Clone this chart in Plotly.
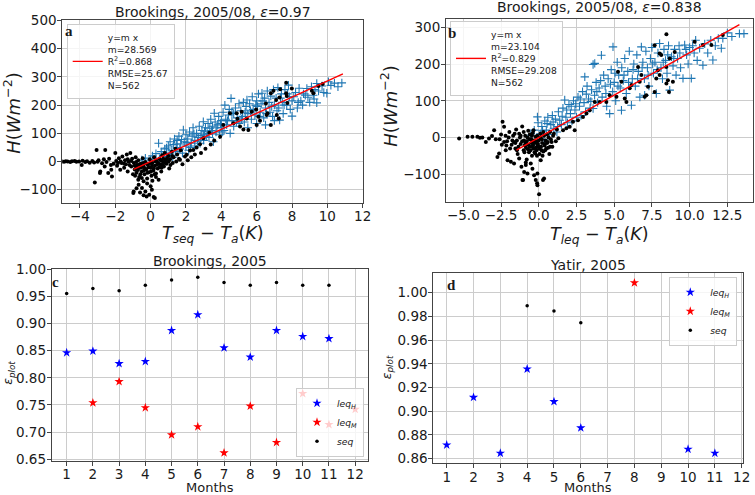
import plotly.graph_objects as go

W, H = 755, 495

# ---------------- Panel a data (Brookings 2005/08, seq) ----------------
a_slope, a_r2, a_rmse, a_n = 28.569, 0.868, 25.67, 562
a_fit_x = [-0.97, 10.88]
a_blue = [(-0.5,6),(-0.3,12),(0.0,5),(0.1,20),(0.3,28),(0.45,65),(0.5,10),(0.6,35),(0.7,18),(0.8,45),(0.9,25),
 (1.0,55),(1.05,30),(1.1,70),(1.2,40),(1.25,15),(1.3,60),(1.35,80),(1.4,35),(1.5,50),(1.5,75),
 (1.6,90),(1.65,45),(1.7,62),(1.8,30),(1.85,112),(1.9,70),(2.0,55),(2.0,95),
 (2.1,80),(2.15,40),(2.2,105),(2.3,65),(2.35,90),(2.4,120),(2.5,75),(2.5,55),
 (2.6,100),(2.7,85),(2.75,125),(2.8,65),(2.9,110),(3.0,95),(2.98,141),(3.0,75),
 (3.1,120),(3.2,100),(3.25,135),(3.3,85),(3.4,150),(3.45,110),(3.5,125),(3.55,70),
 (3.6,171),(3.65,140),(3.7,105),(3.8,130),(3.85,160),(3.9,95),(4.0,145),(4.0,120),
 (4.1,175),(4.15,110),(4.2,200),(4.25,150),(4.3,130),(4.4,165),(4.45,185),(4.5,100),
 (4.55,224),(4.6,145),(4.7,170),(4.7,125),(4.8,190),(4.9,155),(5.0,205),(5.0,135),
 (5.1,180),(5.2,160),(5.25,210),(5.3,140),(5.4,195),(5.45,218),(5.5,170),(5.5,120),
 (5.6,205),(5.7,150),(5.75,230),(5.8,185),(5.9,165),(6.0,215),(6.0,135),(6.05,195),
 (6.1,240),(6.2,175),(6.25,205),(6.3,242),(6.4,155),(6.45,225),(6.5,190),(6.5,130),
 (6.6,250),(6.7,210),(6.75,175),(6.8,232),(6.9,160),(6.95,255),(7.0,200),(7.0,145),
 (7.1,225),(7.2,262),(7.25,190),(7.3,147),(7.4,240),(7.45,210),(7.5,170),
 (7.6,255),(7.7,200),(7.8,271),(7.85,230),(7.9,185),(8.0,161),(8.0,215),
 (8.2,245),(8.3,190),(8.4,260),(8.5,215),(8.6,200),(8.65,240),(8.84,259),(8.9,228),(9.0,210),
 (9.1,265),(9.2,235),(9.3,255),(9.4,277),(9.4,208),(9.5,250),(9.7,268),(9.8,245),(9.97,242),
 (10.06,283),(10.2,270),(10.4,278),(10.6,265),(10.82,279),
 (0.9,48),(1.15,22),(1.45,62),(1.75,78),(2.05,68),(2.25,50),(2.45,98),(2.65,72),(2.85,92),(3.05,108),
 (3.15,88),(3.35,118),(3.5,98),(3.75,120),(3.95,135),(4.05,105),(4.35,145),(4.6,175),(4.85,140),
 (5.15,150),(5.35,175),(5.65,180),(5.95,200),(6.15,160),(6.35,215),(6.55,170),(6.85,195),(7.15,180),
 (7.35,225),(7.55,200),(7.75,240),(8.1,230),(8.35,210),(8.75,235),(9.25,222)]
a_black = [(-5.0,0),(-4.9,-1),(-4.8,1),(-4.7,0),(-4.55,-2),(-4.45,1),(-4.3,2),(-4.2,-1),(-4.05,0),(-3.9,-12),(-3.85,3),
 (-3.7,-2),(-3.6,1),(-3.45,-4),(-3.3,2),(-3.2,-3),(-3.16,-74),(-3.06,41),(-3.0,-1),(-2.95,5),(-2.87,-41),(-2.85,-35),
 (-2.75,-6),(-2.65,8),(-2.57,41),(-2.5,-2),(-2.4,-41),(-2.35,10),(-2.23,-29),(-2.19,-53),(-2.1,-8),(-2.0,30),(-1.95,2),
 (-1.9,-15),(-1.8,12),(-1.72,-29),(-1.65,-5),(-1.6,18),(-1.5,-22),(-1.45,5),(-1.4,-10),(-1.35,25),(-1.3,-35),(-1.25,0),
 (-1.15,30),(-1.1,-18),(-1.05,10),(-1.0,-45),(-0.98,-112),(-0.96,-106),(-0.95,-5),(-0.9,-28),(-0.85,15),(-0.8,-40),
 (-0.75,-12),(-0.7,5),(-0.68,-82),(-0.65,-55),(-0.6,-110),(-0.6,-22),(-0.55,-8),(-0.5,-35),(-0.49,-94),(-0.45,12),
 (-0.4,-70),(-0.4,-18),(-0.35,-45),(-0.3,-106),(-0.3,-2),(-0.25,-28),(-0.23,-124),(-0.2,-60),(-0.15,-12),(-0.1,-38),
 (-0.08,-118),(-0.05,8),(0.0,-22),(0.05,-50),(0.07,-100),(0.1,-5),(0.15,-32),(0.17,-126),(0.2,15),(0.24,-129),(0.25,-15),
 (0.3,-42),(0.35,2),(0.4,-25),(0.45,-65),(0.5,10),(0.55,-10),(0.6,-35),(0.65,22),(0.7,-2),(0.75,-18),(0.8,30),(0.85,5),
 (0.9,-8),(1.0,20),(1.05,-25),(1.1,8),(1.2,35),(1.25,-5),(1.3,15),(1.4,45),(1.45,0),(1.5,25),(1.6,10),(1.66,6),(1.7,40),
 (1.8,-10),(1.94,18),(2.04,24),(2.1,5),(2.23,39),(2.3,15),(2.41,41),(2.5,25),(2.6,50),(2.79,61),(2.85,30),(2.98,83),
 (3.1,45),(3.32,102),(3.4,60),(3.6,75),(3.93,88),(4.11,130),(4.49,171),(4.68,136),(4.87,171),(4.91,152),(5.06,124),
 (5.15,177),(5.25,114),(5.44,153),(5.53,112),(5.72,177),(5.97,185),(6.0,130),(6.1,159),(6.19,145),(6.52,206),(6.57,165),
 (6.61,171),(6.8,242),(6.8,130),(6.95,251),(7.1,218),(7.14,165),(7.25,153),(7.29,227),(7.33,256),(7.67,279),(7.67,242),
 (7.7,232),(7.74,208),(7.99,259),(9.12,251),(9.21,242),(9.5,268),(9.74,275),
 (-0.9,-15),(-0.82,-2),(-0.72,-30),(-0.62,-10),(-0.52,-20),(-0.42,-5),(-0.32,-25),(-0.22,-8),(-0.12,-20),(-0.02,-5),
 (0.08,-15),(0.18,-25),(0.28,0),(0.38,-10),(0.48,-20),(0.58,5),(0.68,-12),(-0.88,-50),(-0.78,-20),(-0.58,-45),(-0.38,-32),
 (-0.18,-40),(0.02,-35),(0.22,-45),(0.42,-5),(0.62,-22),(0.72,10),(0.82,-5),(0.92,12),(1.02,0),(1.12,-12),(1.22,20),
 (-1.2,-12),(-1.1,2),(-1.3,8),(-1.5,-8),(-1.7,0),(-1.85,-5),(-2.25,-12),(-2.6,-18),(-0.7,-65),(-0.5,-58),(-0.2,-78),
 (0.1,-68),(0.3,-55),(-0.8,-95),(0.0,-88),(-0.4,-120)]

# ---------------- Panel b data (Brookings 2005/08, leq) ----------------
b_slope, b_r2, b_rmse, b_n = 23.104, 0.829, 29.208, 562
b_fit_x = [-1.48, 13.3]
b_blue = [(-0.53,6),(-0.3,20),(-0.09,56),(-0.05,40),(0.1,10),(0.2,30),(0.35,-5),(0.4,45),(0.5,20),(0.6,55),(0.7,8),
 (0.8,35),(0.9,60),(1.0,25),(1.1,50),(1.2,15),(1.3,70),(1.39,47),(1.5,35),(1.6,80),(1.72,102),(1.8,55),(1.9,40),(2.0,90),
 (2.1,65),(2.2,45),(2.3,100),(2.4,75),(2.5,55),(2.6,110),(2.7,85),(2.8,60),(2.9,125),(3.0,95),(3.05,165),(3.1,70),
 (3.2,140),(3.3,105),(3.4,80),(3.5,130),(3.6,199),(3.6,79),(3.7,115),(3.71,202),(3.8,150),(3.9,95),(4.0,135),(4.15,224),
 (4.2,110),(4.3,170),(4.4,140),(4.5,85),(4.6,160),(4.7,65),(4.8,185),(4.9,125),(4.92,247),(5.0,150),(5.1,100),(5.2,205),
 (5.3,170),(5.4,135),(5.48,74),(5.5,190),(5.6,155),(5.7,215),(5.8,120),(5.9,180),(6.0,235),(6.14,88),(6.2,160),(6.3,200),
 (6.4,140),(6.5,225),(6.6,180),(6.7,110),(6.8,247),(6.9,205),(7.0,160),(7.02,115),(7.1,235),(7.2,190),(7.3,140),(7.4,215),
 (7.5,245),(7.6,175),(7.7,205),(7.79,120),(7.9,230),(8.01,256),(8.1,190),(8.2,160),(8.3,240),(8.4,210),(8.5,175),
 (8.6,250),(8.68,129),(8.8,220),(8.9,195),(9.0,240),(9.1,170),(9.2,215),(9.3,250),(9.4,190),(9.56,161),(9.67,252),
 (9.8,225),(9.9,200),(10.0,245),(10.11,161),(10.3,230),(10.4,265),(10.5,210),(10.66,243),(10.88,197),(11.0,255),
 (11.2,230),(11.4,265),(11.54,211),(11.7,250),(11.9,270),(12.1,243),(12.2,270),(12.5,285),(12.8,275),(13.3,283),(13.6,283),
 (0.25,18),(0.55,38),(0.95,42),(1.25,30),(1.55,58),(1.85,75),(2.15,85),(2.45,92),(2.75,105),(3.15,118),(3.45,98),
 (3.85,125),(4.1,155),(4.45,120),(4.75,145),(5.05,175),(5.25,140),(5.65,170),(5.95,150),(6.25,185),(6.55,160),(6.85,190),
 (7.25,170),(7.55,200),(7.85,185),(8.25,205),(8.55,225),(8.95,215),(9.35,230),(9.75,240),(10.2,250)]
b_black = [(-5.28,-3),(-4.72,2),(-4.4,2),(-4.07,2),(-3.9,-1),(-3.74,0),(-3.51,-12),(-3.3,-3),(-3.1,4),(-2.96,20),(-2.85,-5),
 (-2.74,-53),(-2.63,-44),(-2.5,8),(-2.4,43),(-2.3,29),(-2.19,-35),(-2.1,-10),(-2.07,-62),(-1.95,15),(-1.85,-66),(-1.8,-20),
 (-1.7,5),(-1.64,-71),(-1.55,-30),(-1.5,22),(-1.45,-8),(-1.4,-45),(-1.3,-57),(-1.3,10),(-1.2,-18),(-1.15,-80),(-1.1,30),
 (-1.08,-116),(-1.04,-116),(-1.0,-35),(-0.97,-94),(-0.93,-21),(-0.9,5),(-0.86,-75),(-0.86,-68),(-0.8,-60),(-0.8,-10),
 (-0.75,-98),(-0.7,18),(-0.65,-40),(-0.6,-25),(-0.53,-71),(-0.5,-5),(-0.45,-50),(-0.42,-85),(-0.4,12),(-0.35,-30),
 (-0.31,-103),(-0.3,-15),(-0.24,-44),(-0.2,-116),(-0.2,2),(-0.15,-35),(-0.11,-125),(-0.1,-20),(-0.09,-130),(-0.09,-98),
 (0.0,-8),(0.02,-155),(0.05,-45),(0.1,10),(0.13,-62),(0.15,-25),(0.2,-5),(0.28,-116),(0.3,-38),(0.35,-112),(0.35,5),
 (0.4,-18),(0.5,-30),(0.55,8),(0.6,-12),(0.7,-45),(0.75,15),(0.8,-5),(0.9,-25),(1.0,10),(1.13,-10),(1.2,22),(1.3,-2),
 (1.61,20),(1.83,25),(2.05,29),(2.27,43),(2.38,20),(2.6,47),(2.93,56),(3.16,65),(3.38,74),(3.71,97),(4.04,97),(4.48,97),
 (4.7,115),(5.15,111),(5.25,179),(5.48,152),(5.7,106),(5.81,97),(6.03,134),(6.14,143),(6.58,192),(6.69,152),(6.8,170),
 (7.02,111),(7.13,115),(7.24,138),(7.68,251),(7.68,124),(7.79,161),(7.9,183),(8.01,229),(8.01,170),(8.12,225),(8.46,281),
 (8.46,192),(8.46,147),(8.56,156),(8.63,124),(8.68,215),(8.89,152),(9.01,233),(10.33,261),(10.88,252),(11.44,252),(12.2,279),
 (-2.6,-5),(-2.3,-12),(-2.0,0),(-1.75,-8),(-1.6,10),(-1.35,-25),(-1.25,0),(-1.1,-10),(-0.95,-40),(-0.85,-28),(-0.75,0),
 (-0.7,-20),(-0.55,-35),(-0.5,-15),(-0.45,5),(-0.38,-22),(-0.28,-40),(-0.25,-8),(-0.18,-28),(-0.12,-50),(-0.05,-18),
 (0.05,-30),(0.12,0),(0.22,-15),(0.25,-50),(0.42,-35),(0.45,-8),(0.62,-28),(0.65,0),(0.85,-12),(0.95,5),(-1.9,-30),
 (-2.2,5),(-1.45,-35),(-0.6,8),(0.3,15),(-0.35,20),(-1.0,15),
 (-2.45,-20),(-2.15,-22),(-1.65,-12),(-1.2,5),(-0.98,-8),(-0.88,-15),(-0.72,-32),(-0.62,-5),(-0.42,-25),(-0.32,-8),
 (-0.15,-12),(0.0,-25),(0.18,-35),(0.38,-22),(0.55,-15),(0.75,-25),(-1.55,-15),(-0.1,5)]

# ---------------- Panel c data (Brookings 2005) ----------------
c_leqH_m = [1,2,3,4,5,6,7,8,9,10,11]
c_leqH = [0.846,0.849,0.826,0.830,0.887,0.916,0.855,0.838,0.887,0.876,0.872]
c_leqM_m = [2,3,4,5,6,7,8,9,10,11,12]
c_leqM = [0.754,0.793,0.745,0.695,0.710,0.662,0.748,0.681,0.771,0.714,0.742]
c_seq_m = [1,2,3,4,5,6,7,8,9,10,11]
c_seq = [0.955,0.964,0.960,0.970,0.980,0.985,0.975,0.970,0.975,0.970,0.970]

# ---------------- Panel d data (Yatir 2005) ----------------
d_leqH_m = [1,2,3,4,5,6,10,11]
d_leqH = [0.8715,0.9117,0.8645,0.9356,0.9081,0.8859,0.8679,0.8645]
d_leqM_m = [8]
d_leqM = [1.0084]
d_seq_m = [4,5,6]
d_seq = [0.989,0.9845,0.9747]

months = list(range(1, 13))

BLUE_PLUS = "#1f77b4"
FONT = "DejaVu Sans"
TXT = "#1a1a1a"

def px(x): return x / W
def py(y): return 1 - y / H

fig = go.Figure()

def fit_name(s, r2, rmse, n):
    return f"y=m x<br>m={s}<br>R<sup>2</sup>={r2}<br>RMSE={rmse}<br>N={n}"

# panel a
fig.add_trace(go.Scatter(x=[p[0] for p in a_blue], y=[p[1] for p in a_blue], mode="markers",
    marker=dict(symbol="cross-thin", size=6, line=dict(color=BLUE_PLUS, width=1.1)),
    showlegend=False, xaxis="x", yaxis="y"))
fig.add_trace(go.Scatter(x=[p[0] for p in a_black], y=[p[1] for p in a_black], mode="markers",
    marker=dict(symbol="circle", size=4, color="black"), showlegend=False, xaxis="x", yaxis="y"))
fig.add_trace(go.Scatter(x=a_fit_x, y=[a_slope * v for v in a_fit_x], mode="lines",
    line=dict(color="red", width=1.4), name=fit_name(a_slope, a_r2, a_rmse, a_n),
    xaxis="x", yaxis="y", legend="legend"))

# panel b
fig.add_trace(go.Scatter(x=[p[0] for p in b_blue], y=[p[1] for p in b_blue], mode="markers",
    marker=dict(symbol="cross-thin", size=6, line=dict(color=BLUE_PLUS, width=1.1)),
    showlegend=False, xaxis="x2", yaxis="y2"))
fig.add_trace(go.Scatter(x=[p[0] for p in b_black], y=[p[1] for p in b_black], mode="markers",
    marker=dict(symbol="circle", size=4, color="black"), showlegend=False, xaxis="x2", yaxis="y2"))
fig.add_trace(go.Scatter(x=b_fit_x, y=[b_slope * v for v in b_fit_x], mode="lines",
    line=dict(color="red", width=1.4), name=fit_name(b_slope, b_r2, b_rmse, b_n),
    xaxis="x2", yaxis="y2", legend="legend2"))

leqH_name = "<i>leq</i><sub><i>H</i></sub>"
leqM_name = "<i>leq</i><sub><i>M</i></sub>"
seq_name = "<i>seq</i>"

for (xa, ya, lg, hm, hv, mm, mv, sm, sv) in [
        ("x3", "y3", "legend3", c_leqH_m, c_leqH, c_leqM_m, c_leqM, c_seq_m, c_seq),
        ("x4", "y4", "legend4", d_leqH_m, d_leqH, d_leqM_m, d_leqM, d_seq_m, d_seq)]:
    fig.add_trace(go.Scatter(x=hm, y=hv, mode="markers", name=leqH_name,
        marker=dict(symbol="star", size=7, color="blue"), xaxis=xa, yaxis=ya, legend=lg))
    fig.add_trace(go.Scatter(x=mm, y=mv, mode="markers", name=leqM_name,
        marker=dict(symbol="star", size=7, color="red"), xaxis=xa, yaxis=ya, legend=lg))
    fig.add_trace(go.Scatter(x=sm, y=sv, mode="markers", name=seq_name,
        marker=dict(symbol="circle", size=3.5, color="black"), xaxis=xa, yaxis=ya, legend=lg))

axis_common = dict(showline=True, mirror=True, linecolor="#444", linewidth=1,
                   ticks="outside", ticklen=4, tickcolor="#444", tickwidth=1,
                   showgrid=True, gridcolor="#cccccc", gridwidth=1, zeroline=False,
                   automargin=False,
                   tickfont=dict(family=FONT, size=13.5, color=TXT))
xstand = dict(ticklabelstandoff=-3)
ystand = dict(ticklabelstandoff=-2)

legend_common = dict(bgcolor="rgba(255,255,255,0.8)", bordercolor="#cccccc", borderwidth=1,
                     font=dict(family=FONT, size=9.2, color=TXT))

fig.update_layout(
    template="simple_white",
    width=W, height=H, autosize=False,
    margin=dict(l=0, r=0, t=0, b=0, pad=0, autoexpand=False),
    paper_bgcolor="white", plot_bgcolor="white",
    font=dict(family=FONT, color=TXT),
    xaxis=dict(domain=[px(62.3), px(362.7)], range=[-5, 12], dtick=2, tick0=0, anchor="y", **axis_common, **xstand),
    yaxis=dict(domain=[py(202.7), py(20)], range=[-146, 502], dtick=100, tick0=0, anchor="x", **axis_common, **ystand),
    xaxis2=dict(domain=[px(446), px(753)], range=[-6.15, 14.2], dtick=2.5, tick0=0, tickformat=".1f", anchor="y2", **axis_common, **xstand),
    yaxis2=dict(domain=[py(201.7), py(19.3)], range=[-175, 322], dtick=100, tick0=0, anchor="x2", **axis_common, **ystand),
    xaxis3=dict(domain=[px(51.7), px(368.3)], range=[0.43, 12.5], tickvals=months, anchor="y3", **axis_common, **xstand),
    yaxis3=dict(domain=[py(460.7), py(269)], range=[0.6475, 1.0], dtick=0.05, tick0=0, tickformat=".2f", anchor="x3", **axis_common, **ystand),
    xaxis4=dict(domain=[px(433.3), px(743.3)], range=[0.5, 12.06], tickvals=months, anchor="y4", **axis_common, **xstand),
    yaxis4=dict(domain=[py(463.3), py(273.3)], range=[0.856, 1.0164], dtick=0.02, tick0=0, tickformat=".2f", anchor="x4", **axis_common, **ystand),
    legend=dict(x=px(66.7), y=py(24), xanchor="left", yanchor="top", itemwidth=30, **legend_common),
    legend2=dict(x=px(450), y=py(21), xanchor="left", yanchor="top", itemwidth=30, **legend_common),
    legend3=dict(x=px(364), y=py(456.7), xanchor="right", yanchor="bottom", itemwidth=30, **legend_common),
    legend4=dict(x=px(737.3), y=py(276.7), xanchor="right", yanchor="top", itemwidth=30, **legend_common),
)

ann = []
def add_text(text, x, y, size, angle=0, family=FONT, bold=False):
    ann.append(dict(text=(f"<b>{text}</b>" if bold else text), x=px(x), y=py(y), xref="paper", yref="paper",
                    xanchor="center", yanchor="middle", showarrow=False, textangle=angle,
                    font=dict(family=family, size=size, color=TXT)))

# titles
add_text("Brookings, 2005/08, <i>ε</i>=0.97", 212.5, 11.7, 14)
add_text("Brookings, 2005/08, <i>ε</i>=0.838", 599, 7.5, 14)
add_text("Brookings, 2005", 210, 260.7, 14)
add_text("Yatir, 2005", 588.3, 265, 14)
# axis labels
hlab = "<i>H</i>(<i>Wm</i><sup>−2</sup>)"
add_text(hlab, 12.5, 113.3, 18, angle=-90)
add_text(hlab, 389, 105.7, 18, angle=-90)
add_text("<i>T</i><sub><i>seq</i></sub> − <i>T</i><sub><i>a</i></sub>(<i>K</i>)", 212.5, 234.5, 17.5)
add_text("<i>T</i><sub><i>leq</i></sub> − <i>T</i><sub><i>a</i></sub>(<i>K</i>)", 599, 236, 17.5)
eps = "<i>ε</i><sub><i>plot</i></sub>"
add_text(eps, 8.5, 373.3, 12.5, angle=-90)
add_text(eps, 387.5, 366.7, 12.5, angle=-90)
add_text("Months", 210, 487.5, 13)
add_text("Months", 588.3, 487.5, 13)
# panel letters
add_text("a", 69.3, 31, 15, family="Liberation Serif", bold=True)
add_text("b", 452.3, 33.3, 15, family="Liberation Serif", bold=True)
add_text("c", 55.5, 281.7, 15, family="Liberation Serif", bold=True)
add_text("d", 451, 285, 15, family="Liberation Serif", bold=True)

fig.update_layout(annotations=ann)
fig.write_html("out.html", config={"displayModeBar": False},
               post_script="document.documentElement.style.margin='0';document.body.style.margin='0';"
                           "document.body.style.overflow='hidden';")
